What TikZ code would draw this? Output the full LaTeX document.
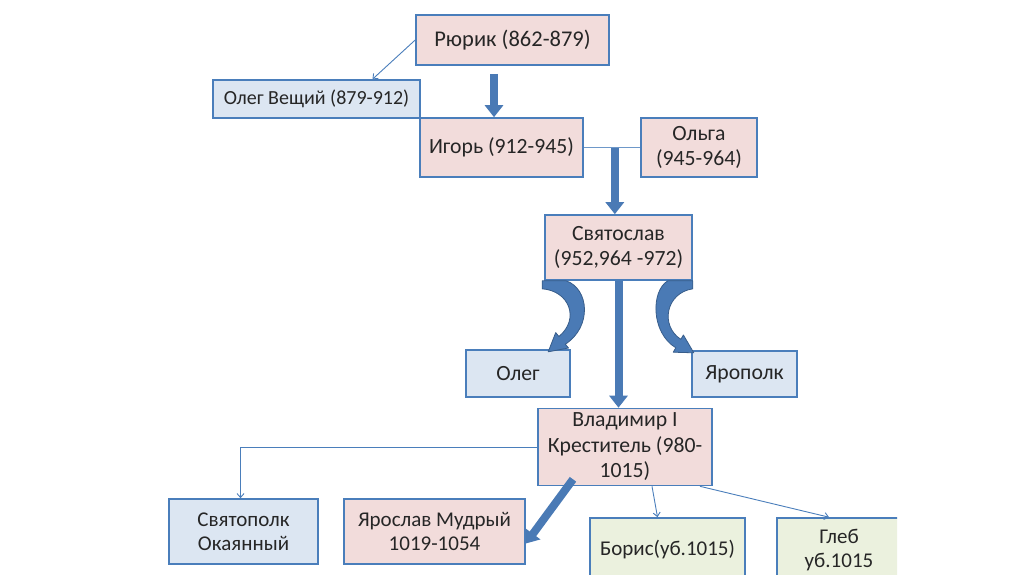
\documentclass[tikz,border=0pt]{standalone}
\usepackage{fontspec}
\setmainfont{Carlito}
\usetikzlibrary{arrows.meta}
\definecolor{boxblue}{HTML}{4A7EBB}
\definecolor{arrblue}{HTML}{4A7AB5}
\definecolor{arredge}{HTML}{385D8A}
\definecolor{pinkfill}{HTML}{F2DCDB}
\definecolor{bluefill}{HTML}{DCE6F2}
\definecolor{greenfill}{HTML}{EBF1DE}
\begin{document}
\begin{tikzpicture}[x=1pt,y=-1pt,
  person/.style={draw=boxblue,line width=1.6pt,text=black!85,align=center,
    inner sep=0pt,font=\fontsize{21.7}{25.5}\selectfont},
  pinkbox/.style={person,fill=pinkfill},
  bluebox/.style={person,fill=bluefill},
  greenbox/.style={person,fill=greenfill},
  smalltext/.style={font=\fontsize{21}{23.5}\selectfont},
  link/.style={draw=boxblue,line width=0.9pt,-{Straight Barb[length=4pt,width=7pt]}},
  tie/.style={draw=boxblue!80,line width=0.9pt},
  bigarrow/.style={draw=arrblue,line width=8pt,-{Triangle[length=12pt,width=18pt]}},
  bentarrow/.style={fill=arrblue,draw=arredge,line width=0.8pt,line join=round}]
 % \draw[help lines] (0,0) grid[step=50] (1024,574);
  \useasboundingbox (0,0) rectangle (1024,574);
  \node[pinkbox,minimum width=193,minimum height=50,font=\fontsize{22.5}{26}\selectfont] (rurik) at (512.5,40) {Рюрик (862-879)};
  \node[bluebox,minimum width=207,minimum height=38,font=\fontsize{20}{24}\selectfont] (olegv) at (316.5,99) {Олег Вещий (879-912)};
  \node[pinkbox,minimum width=163,minimum height=59] (igor) at (501.5,147.5) {Игорь (912-945)};
  \node[pinkbox,minimum width=116,minimum height=59] (olga) at (699,147.5) {Ольга\\(945-964)};
  \node[pinkbox,minimum width=147,minimum height=65] (svyat) at (618.5,247.5) {Святослав\\(952,964 -972)};
  \node[bluebox,minimum width=104,minimum height=47] (oleg) at (518,373.5) {Олег};
  \node[bluebox,minimum width=105,minimum height=46] (yaropolk) at (744.5,374) {Ярополк};
  \node[pinkbox,minimum width=174,minimum height=77] (vlad) at (625,447) {Владимир I\\Креститель (980-\\1015)};
  \node[bluebox,smalltext,minimum width=149,minimum height=65] (svyatopolk) at (243.5,531.5) {Святополк\\Окаянный};
  \node[pinkbox,smalltext,minimum width=181,minimum height=65] (yaroslav) at (434.5,531.5) {Ярослав Мудрый\\1019-1054};
  \node[greenbox,smalltext,minimum width=155,minimum height=62] (boris) at (667.5,549) {Борис(уб.1015)};
  \begin{scope}
    \clip (0,0) rectangle (897,574);
    \node[greenbox,smalltext,minimum width=124,minimum height=64] (gleb) at (839,550) {Глеб\\уб.1015};
  \end{scope}
  \path[tie] (igor) -- coordinate[pos=0.55] (marriage) (olga);
  \draw[link] (rurik.west) -- ([xshift=56pt]olegv.north);
  \draw[link] (vlad.west) -| ([xshift=-3pt]svyatopolk.north);
  \draw[link] ([xshift=27pt]vlad.south) -- ([xshift=-10pt]boris.north);
  \draw[link] ([xshift=75pt]vlad.south) -- ([xshift=-10pt]gleb.north);
  \draw[bigarrow] ([xshift=-18.5pt,yshift=-8pt]rurik.south) -- ([xshift=-7.5pt]igor.north);
  \draw[bigarrow] (marriage) -- (marriage |- svyat.north);
  \draw[bigarrow] (svyat.south) -- (svyat.south |- vlad.north);
  % bent arrows to Oleg and Yaropolk
  \begin{scope}[shift={(svyat.south west)}]
    \filldraw[bentarrow] (-2,0) -- (-2,8) .. controls (25,10) and (36,38) .. (14.7,55.7)
      -- (11.5,51.8) -- (4,71) -- (24.3,67.2) -- (21.1,63.4) .. controls (48,46) and (45,8) .. (22,0) -- cycle;
  \end{scope}
  \begin{scope}[shift={(svyat.south east)},xscale=-1]
    \filldraw[bentarrow] (0,0) -- (0,8) .. controls (27,12) and (33,45) .. (12,58.5)
      -- (9.4,54.2) -- (-1,72) -- (19.6,71.4) -- (17,67) .. controls (42,52) and (42,10) .. (25,0) -- cycle;
  \end{scope}
  \draw[bigarrow] ([xshift=-52pt,yshift=7pt]vlad.south) -- ([yshift=-12pt]yaroslav.east);
\end{tikzpicture}
\end{document}
